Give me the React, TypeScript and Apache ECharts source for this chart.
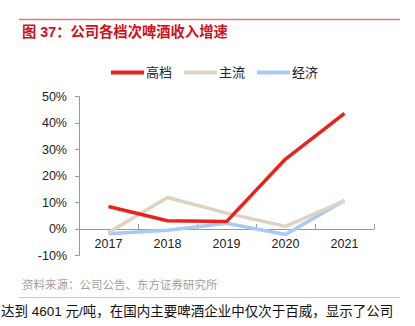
import React, { useEffect, useRef } from "react";
import * as echarts from "echarts";

const categories = ["2017", "2018", "2019", "2020", "2021"];
const seriesNames = ["高档", "主流", "经济"];
const highEnd = [8.5, 3.1, 2.8, 26.4, 43.6];
const mainstream = [-1.3, 11.9, 6.0, 1.0, 10.6];
const economy = [-1.8, -0.5, 2.2, -2.1, 10.8];
const colors = ["#e8231d", "#ddd3c0", "#a9c9f7"];

const FONT = "'Liberation Sans', 'Noto Sans CJK SC', sans-serif";

export default function App() {
  const ref = useRef<HTMLDivElement>(null);
  useEffect(() => {
    if (!ref.current) return;
    const chart = echarts.init(ref.current, undefined, { renderer: "svg" });
    const values = [highEnd, mainstream, economy];
    chart.setOption({
      animation: false,
      backgroundColor: "#fff",
      grid: { left: 79, right: 41, top: 96.5, bottom: 70.5 },
      legend: {
        left: 106,
        top: 61,
        icon: "rect",
        itemWidth: 33,
        itemHeight: 4,
        itemGap: 12,
        textStyle: { fontSize: 13, color: "#222", fontFamily: FONT, padding: [0, 0, 0, -3] },
        data: seriesNames,
      },
      xAxis: {
        type: "category",
        data: categories,
        boundaryGap: true,
        axisLine: { onZero: true, lineStyle: { color: "#9a9a9a", width: 1 } },
        axisTick: { show: true, alignWithLabel: false, length: 5, inside: true, lineStyle: { color: "#9a9a9a" } },
        axisLabel: { fontSize: 12.5, color: "#222", fontFamily: FONT, margin: -17.5 },
      },
      yAxis: {
        type: "value",
        min: -10,
        max: 50,
        interval: 10,
        axisLine: { show: true, lineStyle: { color: "#9a9a9a", width: 1 } },
        axisTick: { show: true, length: 4, lineStyle: { color: "#9a9a9a" } },
        splitLine: { show: false },
        axisLabel: { fontSize: 12.5, color: "#222", fontFamily: FONT, margin: 12, formatter: "{value}%" },
      },
      series: seriesNames.map((name, i) => ({
        name,
        type: "line",
        data: values[i],
        symbol: "none",
        lineStyle: { width: 3.5, color: colors[i] },
        itemStyle: { color: colors[i] },
        z: 3 - i,
      })),
      graphic: [
        { type: "line", shape: { x1: 19, y1: 19.5, x2: 400, y2: 19.5 }, style: { stroke: "#e57a7a", lineWidth: 1.5 } },
        {
          type: "text",
          left: 22,
          top: 25,
          style: { text: "图 37：公司各档次啤酒收入增速", fill: "#d0121b", font: `bold 14.3px ${FONT}` },
        },
        {
          type: "text",
          left: 22,
          top: 279,
          style: { text: "资料来源：公司公告、东方证券研究所", fill: "#a0a0a0", font: `11.5px ${FONT}` },
        },
        { type: "line", shape: { x1: 19, y1: 297.5, x2: 400, y2: 297.5 }, style: { stroke: "#f2b8b8", lineWidth: 1 } },
        {
          type: "text",
          left: 1,
          top: 305,
          style: { text: "达到 4601 元/吨，在国内主要啤酒企业中仅次于百威，显示了公司", fill: "#111", font: `13.5px ${FONT}` },
        },
      ],
    });
    return () => chart.dispose();
  }, []);
  return <div ref={ref} style={{ width: 415, height: 326, position: "absolute", left: 0, top: 0 }} />;
}
